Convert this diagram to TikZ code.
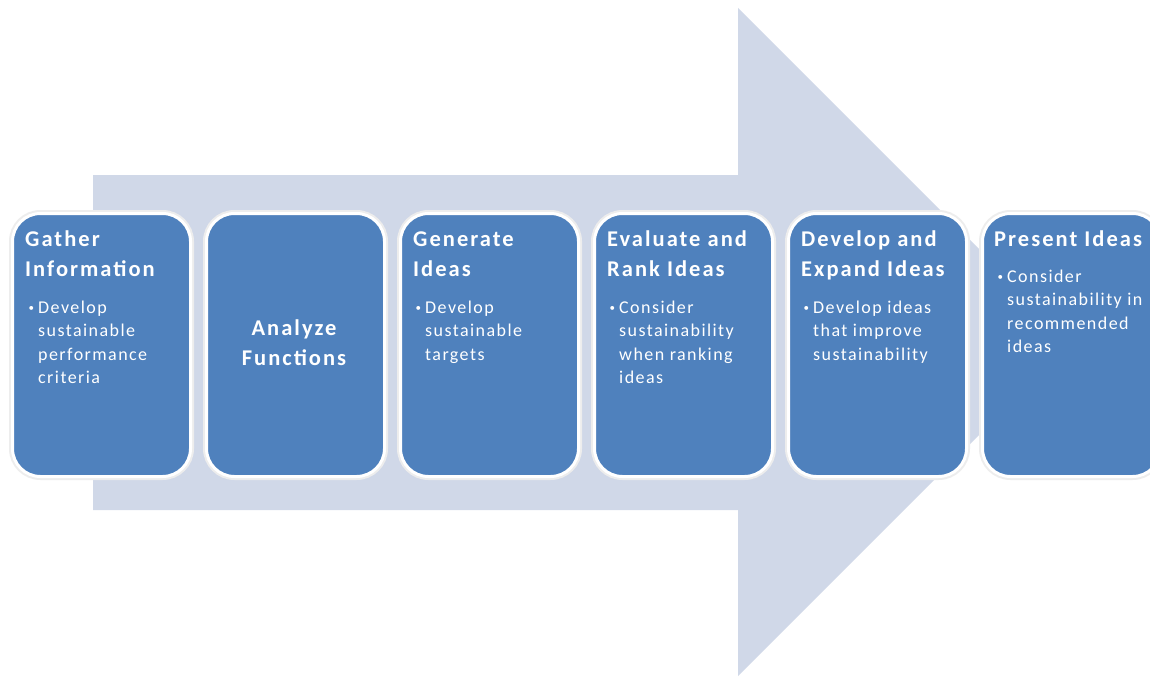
\documentclass[tikz,border=0pt]{standalone}
\usepackage{fontspec}
\setmainfont{Carlito}
\newfontfamily\titlefont[LetterSpace=9]{Carlito}
\newfontfamily\bodyfont[LetterSpace=8]{Carlito}
\definecolor{boxblue}{HTML}{4F81BD}
\definecolor{arrowfill}{HTML}{D0D8E8}
\newcommand{\bl}{\llap{{\fontsize{11}{11}\selectfont\raisebox{1.5pt}{•}}\hspace{4pt}}}
\begin{document}
\begin{tikzpicture}[x=1pt,y=-1pt,
  stage/.style={draw=white, line width=3pt, fill=boxblue, rounded corners=28pt,
    minimum width=178pt, minimum height=263pt, anchor=north west, inner sep=0pt,
    preaction={draw=black!7, line width=7pt}},
  ttl/.style={text=white, inner sep=0pt, font=\titlefont\bfseries\fontsize{22.5}{30}\selectfont},
  bdy/.style={text=white, inner sep=0pt, font=\bodyfont\fontsize{18}{23.5}\selectfont, anchor=base west}]
\clip (0,0) rectangle (1150,677);
\fill[white] (0,0) rectangle (1150,677);
\fill[arrowfill] (93,175) -- (738,175) -- (738,8) -- (1072,342) -- (738,676) -- (738,510) -- (93,510) -- cycle;
% boxes
\node[stage] (b1) at (11,212) {};
\node[stage] (b2) at (205,212) {};
\node[stage] (b3) at (399,212) {};
\node[stage] (b4) at (593,212) {};
\node[stage] (b5) at (787,212) {};
\node[stage] (b6) at (981,212) {};
% box 1
\node[ttl, anchor=base west] (t1) at (25,246) {\vtop{\hbox{Gather}\hbox{Information}}};
\node[bdy] (d1) at (38,313) {\vtop{\hbox{\bl Develop}\hbox{sustainable}\hbox{performance}\hbox{criteria}}};
% box 2
\node[ttl, anchor=base] (t2) at (294,335) {\vtop{\hbox to 0pt{\hss Analyze\hss}\hbox to 0pt{\hss Functions\hss}}};
% box 3
\node[ttl, anchor=base west] (t3) at (413,246) {\vtop{\hbox{Generate}\hbox{Ideas}}};
\node[bdy] (d3) at (425,313) {\vtop{\hbox{\bl Develop}\hbox{sustainable}\hbox{targets}}};
% box 4
\node[ttl, anchor=base west] (t4) at (607,246) {\vtop{\hbox{Evaluate and}\hbox{Rank Ideas}}};
\node[bdy] (d4) at (619,313) {\vtop{\hbox{\bl Consider}\hbox{sustainability}\hbox{when ranking}\hbox{ideas}}};
% box 5
\node[ttl, anchor=base west] (t5) at (801,246) {\vtop{\hbox{Develop and}\hbox{Expand Ideas}}};
\node[bdy] (d5) at (813,313) {\vtop{\hbox{\bl Develop ideas}\hbox{that improve}\hbox{sustainability}}};
% box 6
\node[ttl, anchor=base west] (t6) at (994,246) {\vtop{\hbox{Present Ideas}}};
\node[bdy] (d6) at (1007,282) {\vtop{\hbox{\bl Consider}\hbox{sustainability in}\hbox{recommended}\hbox{ideas}}};
\end{tikzpicture}
\end{document}
